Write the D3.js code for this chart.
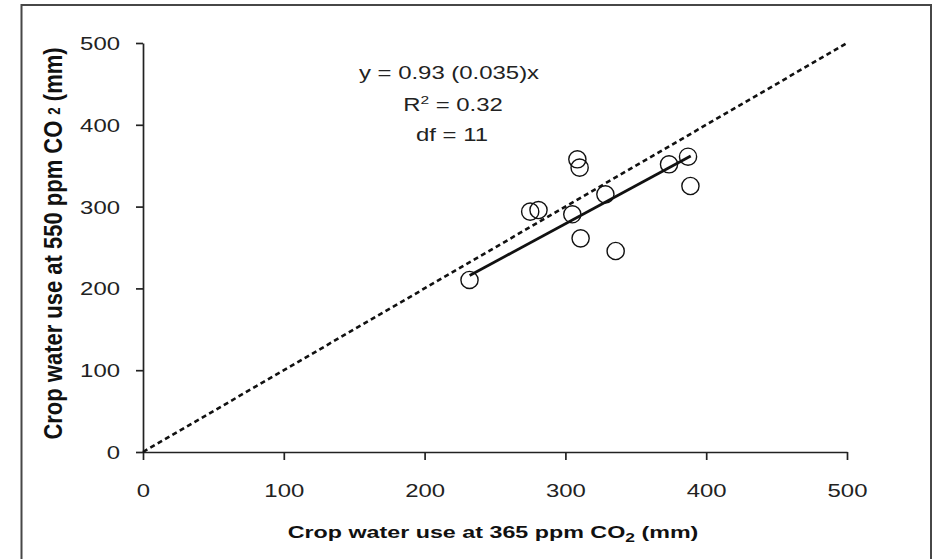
<!DOCTYPE html>
<html>
<head>
<meta charset="utf-8">
<script src="https://cdn.jsdelivr.net/npm/d3@7"></script>
<style>
  html, body { margin: 0; padding: 0; background: #fff; }
  svg { display: block; }
  text { font-family: "Liberation Sans", Arial, sans-serif; }
</style>
</head>
<body>
<svg id="chart" width="934" height="559"></svg>
<script>
// ---- data ----
const xTicks = [0, 100, 200, 300, 400, 500];
const yTicks = [0, 100, 200, 300, 400, 500];
const cwu365 = [231.9, 275.0, 280.9, 304.9, 328.4, 308.5, 310.1, 310.8, 335.7, 373.6, 387.1, 388.8];
const cwu550 = [210.3, 293.8, 295.8, 290.6, 315.0, 357.8, 347.6, 261.2, 245.7, 351.7, 361.0, 325.2];
const slope = 0.93;
const fitRange = [232, 389];
const oneToOne = [0, 500];
const eqLine = "y = 0.93 (0.035)x";
const r2Value = "0.32";
const dfValue = "11";

// ---- layout ----
const svg = d3.select("#chart");
const x = d3.scaleLinear().domain([0, 500]).range([143, 847]);
const y = d3.scaleLinear().domain([0, 500]).range([452, 43]);
const SX = 1.33; // horizontal stretch of the original image's text

// outer frame (no bottom edge visible)
svg.append("path")
  .attr("d", "M21.5,560 V5 H931 V560")
  .attr("fill", "none").attr("stroke", "#474747").attr("stroke-width", 2);

// axes
const gx = svg.append("g").attr("transform", `translate(0,${y(0)})`)
  .call(d3.axisBottom(x).tickValues(xTicks).tickSize(8).tickSizeOuter(0).tickFormat(d3.format("d")));
const gy = svg.append("g").attr("transform", `translate(${x(0)},0)`)
  .call(d3.axisLeft(y).tickValues(yTicks).tickSize(7).tickSizeOuter(0).tickFormat(d3.format("d")));

[gx, gy].forEach(g => {
  g.select(".domain").attr("stroke", "#222").attr("stroke-width", 1.7);
  g.selectAll(".tick line").attr("stroke", "#222").attr("stroke-width", 1.7);
  g.selectAll(".tick text").attr("font-size", 18).attr("fill", "#222")
    .attr("font-family", "'Liberation Sans', Arial, sans-serif");
});
gx.selectAll(".tick text").attr("x", 0).attr("y", 0).attr("dy", null)
  .attr("transform", `translate(0,${497 - y(0)}) scale(${SX},1)`);
gy.selectAll(".tick text").attr("x", 0).attr("dy", "0.36em")
  .attr("transform", `translate(${120 - x(0)},0) scale(${SX},1)`);

// 1:1 dashed line
svg.append("line")
  .attr("x1", x(oneToOne[0])).attr("y1", y(oneToOne[0]))
  .attr("x2", x(oneToOne[1])).attr("y2", y(oneToOne[1]))
  .attr("stroke", "#111").attr("stroke-width", 2.6)
  .attr("stroke-dasharray", "5,3.5");

// regression line
svg.append("line")
  .attr("x1", x(fitRange[0])).attr("y1", y(slope * fitRange[0]))
  .attr("x2", x(fitRange[1])).attr("y2", y(slope * fitRange[1]))
  .attr("stroke", "#111").attr("stroke-width", 2.8);

// points
svg.append("g").selectAll("circle")
  .data(cwu365.map((v, i) => [v, cwu550[i]]))
  .join("circle")
  .attr("cx", d => x(d[0])).attr("cy", d => y(d[1]))
  .attr("r", 8.6)
  .attr("fill", "none").attr("stroke", "#111").attr("stroke-width", 1.4);

// annotation
const ann = svg.append("g").attr("fill", "#222").attr("font-size", 18);
ann.append("text").attr("text-anchor", "middle")
  .attr("transform", `translate(449,79) scale(${SX},1)`).text(eqLine);
const r2 = ann.append("text").attr("text-anchor", "middle")
  .attr("transform", `translate(453,111) scale(${SX},1)`);
r2.append("tspan").text("R");
r2.append("tspan").attr("font-size", "0.65em").attr("dy", "-0.6em").text("2");
r2.append("tspan").attr("dy", "0.39em").text(" = " + r2Value);
ann.append("text").attr("text-anchor", "middle")
  .attr("transform", `translate(452,141) scale(${SX},1)`).text("df = " + dfValue);

// axis titles
const xl = svg.append("text").attr("text-anchor", "middle")
  .attr("font-size", 17).attr("font-weight", "bold").attr("fill", "#111")
  .attr("transform", `translate(493,538) scale(1.37,1)`);
xl.append("tspan").text("Crop water use at 365 ppm CO");
xl.append("tspan").attr("font-size", "0.75em").attr("dy", "0.3em").text("2");
xl.append("tspan").attr("dy", "-0.23em").text(" (mm)");

const yl = svg.append("text").attr("text-anchor", "middle")
  .attr("font-size", 22).attr("font-weight", "bold").attr("fill", "#111")
  .attr("transform", `translate(62,243.5) scale(1.2,1) rotate(-90)`);
yl.append("tspan").text("Crop water use at 550 ppm CO ");
yl.append("tspan").attr("font-size", "0.6em").attr("dy", "-0.15em").text("2");
yl.append("tspan").attr("dy", "0.09em").text(" (mm)");
</script>
</body>
</html>
